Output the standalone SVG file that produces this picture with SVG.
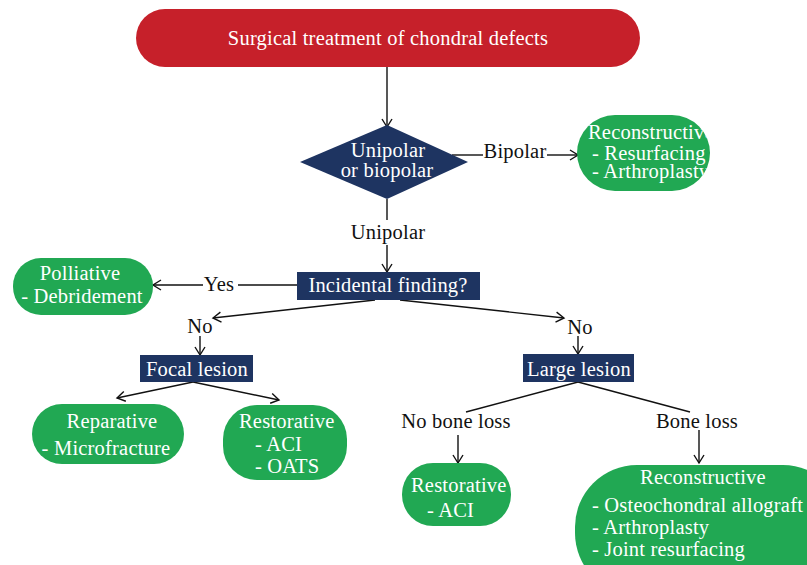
<svg xmlns="http://www.w3.org/2000/svg" width="807" height="565" viewBox="0 0 807 565">
<style>
.t{font-family:"Liberation Serif","Times New Roman",serif;font-size:20.5px;letter-spacing:0.2px;}
.w{fill:#ffffff;}
.k{fill:#111111;}
.red{fill:#C6202A;}
.navy{fill:#1E3461;}
.green{fill:#21A853;}
.c line,.c polyline{stroke:#111111;stroke-width:1.4;fill:none;}
</style>
<defs>
<marker id="ah" markerUnits="userSpaceOnUse" markerWidth="12" markerHeight="12" refX="9" refY="6" orient="auto">
<path d="M1,1 L9,6 L1,11" fill="none" stroke="#111111" stroke-width="1.4"/>
</marker>
<clipPath id="cp1"><rect x="577" y="115" width="133" height="76" rx="38"/></clipPath>
<clipPath id="cp2"><rect x="575" y="465" width="270" height="130" rx="62"/></clipPath>
</defs>
<g class="c">
<line x1="387" y1="67" x2="387" y2="127" marker-end="url(#ah)"/>
<line x1="452" y1="155" x2="483" y2="155"/>
<line x1="547" y1="155" x2="578" y2="155" marker-end="url(#ah)"/>
<line x1="387" y1="199" x2="387" y2="220"/>
<line x1="387" y1="245" x2="387" y2="272" marker-end="url(#ah)"/>
<line x1="297" y1="285" x2="238" y2="285"/>
<line x1="203" y1="285" x2="153" y2="285" marker-end="url(#ah)"/>
<line x1="375" y1="300" x2="213" y2="318" marker-end="url(#ah)"/>
<line x1="200" y1="336" x2="200" y2="355" marker-end="url(#ah)"/>
<line x1="193" y1="382" x2="117" y2="398" marker-end="url(#ah)"/>
<line x1="193" y1="382" x2="279" y2="400" marker-end="url(#ah)"/>
<line x1="400" y1="300" x2="564" y2="318" marker-end="url(#ah)"/>
<line x1="578" y1="336" x2="578" y2="354" marker-end="url(#ah)"/>
<line x1="578" y1="382" x2="466" y2="412"/>
<line x1="578" y1="382" x2="690" y2="412"/>
<line x1="458" y1="435" x2="458" y2="463" marker-end="url(#ah)"/>
<line x1="699" y1="430" x2="699" y2="463" marker-end="url(#ah)"/>
</g>
<g class="t k" text-anchor="middle">
<text x="515" y="158">Bipolar</text>
<text x="388" y="239">Unipolar</text>
<text x="219" y="291">Yes</text>
<text x="200" y="333">No</text>
<text x="580" y="334">No</text>
<text x="456" y="428">No bone loss</text>
<text x="697" y="428">Bone loss</text>
</g>
<g id="start">
<rect class="red" x="136" y="9" width="504" height="58" rx="29"/>
<text class="t w" x="388" y="45" text-anchor="middle">Surgical treatment of chondral defects</text>
</g>
<g id="polarity">
<polygon class="navy" points="387,125 468,162 387,199 300,162"/>
<text class="t w" x="388" y="157" text-anchor="middle">Unipolar</text>
<text class="t w" x="387" y="177" text-anchor="middle">or biopolar</text>
</g>
<g id="reconstructive1">
<rect class="green" x="577" y="115" width="133" height="76" rx="38"/>
<g clip-path="url(#cp1)" class="t w">
<text x="588" y="139">Reconstructive</text>
<text x="592" y="160">- Resurfacing</text>
<text x="592" y="178">- Arthroplasty</text>
</g>
</g>
<g id="incidental">
<rect class="navy" x="297" y="272" width="183" height="28"/>
<text class="t w" x="388" y="292" text-anchor="middle">Incidental finding?</text>
</g>
<g id="polliative">
<rect class="green" x="13" y="258" width="140" height="57" rx="28"/>
<text class="t w" x="80" y="280" text-anchor="middle">Polliative</text>
<text class="t w" x="82" y="303" text-anchor="middle">- Debridement</text>
</g>
<g id="focal">
<rect class="navy" x="140" y="355" width="113" height="27"/>
<text class="t w" x="197" y="376" text-anchor="middle">Focal lesion</text>
</g>
<g id="reparative">
<rect class="green" x="32" y="404" width="152" height="60" rx="30"/>
<text class="t w" x="112" y="428" text-anchor="middle">Reparative</text>
<text class="t w" x="106" y="455" text-anchor="middle">- Microfracture</text>
</g>
<g id="restorative1">
<rect class="green" x="223" y="405" width="124" height="75" rx="34"/>
<text class="t w" x="239" y="428">Restorative</text>
<text class="t w" x="255" y="451">- ACI</text>
<text class="t w" x="255" y="473">- OATS</text>
</g>
<g id="large">
<rect class="navy" x="523" y="354" width="111" height="28"/>
<text class="t w" x="579" y="376" text-anchor="middle">Large lesion</text>
</g>
<g id="restorative2">
<rect class="green" x="402" y="463" width="109" height="63" rx="31"/>
<text class="t w" x="411" y="492">Restorative</text>
<text class="t w" x="427" y="517">- ACI</text>
</g>
<g id="reconstructive2">
<rect class="green" x="575" y="465" width="270" height="130" rx="62"/>
<g clip-path="url(#cp2)" class="t w">
<text x="703" y="484" text-anchor="middle">Reconstructive</text>
<text x="592" y="512">- Osteochondral allograft</text>
<text x="592" y="534">- Arthroplasty</text>
<text x="592" y="556">- Joint resurfacing</text>
</g>
</g>
</svg>
